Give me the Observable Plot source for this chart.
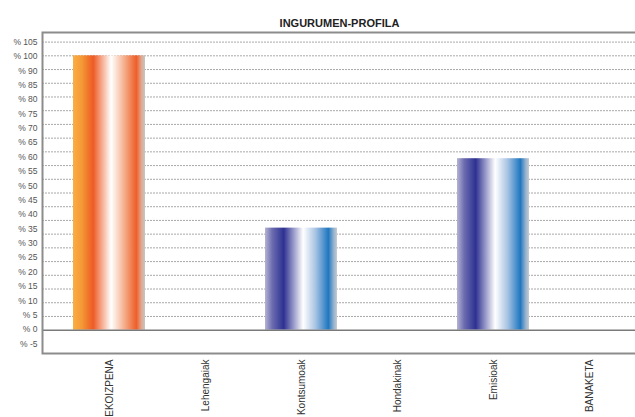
<!DOCTYPE html>
<html>
<head>
<meta charset="utf-8">
<script src="https://cdn.jsdelivr.net/npm/d3@7"></script>
<script src="https://cdn.jsdelivr.net/npm/@observablehq/plot@0.6"></script>
<style>
  html, body { margin: 0; padding: 0; background: #fff; }
  #chart svg { display: block; }
</style>
</head>
<body>
<div id="chart"></div>
<script>
// Environmental profile categories and their values (percent)
const categories = ["EKOIZPENA", "Lehengaiak", "Kontsumoak", "Hondakinak", "Emisioak", "BANAKETA"];
const values = [100, 0, 37.2, 0, 62.5, 0];
const palette = ["orange", "blue", "blue", "blue", "blue", "blue"];

// Y-axis labels, spread evenly from top to bottom of the value range
const yTickLabels = ["% 105", "% 100", "% 90", "% 85", "% 80", "% 75", "% 70", "% 65", "% 60", "% 55",
  "% 50", "% 45", "% 40", "% 35", "% 30", "% 25", "% 20", "% 15", "% 10", "% 5", "% 0", "% -5"];
const yLabelTop = 105, yLabelBottom = -5;
const gridLevels = d3.range(5, 106, 5);

const title = "INGURUMEN-PROFILA";

const data = categories.map((c, i) => ({category: c, value: values[i], tone: palette[i]}));
const yLabelData = yTickLabels.map((t, i) => ({
  text: t,
  pos: yLabelTop - i * (yLabelTop - yLabelBottom) / (yTickLabels.length - 1)
}));

// Gradient definitions used by the bars
function gradients() {
  const defs = d3.create("svg:defs");
  const add = (id, stops) => {
    const g = defs.append("linearGradient").attr("id", id)
      .attr("x1", "0").attr("x2", "1").attr("y1", "0").attr("y2", "0");
    for (const [o, c] of stops) g.append("stop").attr("offset", o).attr("stop-color", c);
  };
  add("grad-orange", [[0, "#faae42"], [0.12, "#f59a36"], [0.28, "#ee5a24"], [0.53, "#ffffff"],
    [0.7, "#f6b495"], [0.88, "#ee5e28"], [0.95, "#e0a890"], [1, "#c8c6c4"]]);
  add("grad-blue", [[0, "#b4b4d4"], [0.1, "#6c6cb0"], [0.26, "#2e3192"], [0.53, "#ffffff"],
    [0.7, "#a9c4e4"], [0.88, "#1f77c0"], [0.95, "#8fb0cc"], [1, "#c4ccd4"]]);
  return defs.node();
}

const chart = Plot.plot({
  width: 635,
  height: 417,
  marginTop: 32,
  marginBottom: 64,
  marginLeft: 42,
  marginRight: -1,
  style: {fontFamily: "Liberation Sans, Arial, sans-serif", background: "#fff", color: "#444"},
  x: {domain: categories, range: [61, 637], paddingInner: 0.25, paddingOuter: 0.125, axis: null, label: null},
  y: {domain: [-8.5, 108.5], axis: null},
  marks: [
    gradients,
    Plot.ruleY(gridLevels, {stroke: "#a8a8a8", strokeWidth: 1, strokeDasharray: "2,1"}),
    Plot.barY(data.filter(d => d.tone === "orange"), {x: "category", y: "value", fill: "url(#grad-orange)"}),
    Plot.barY(data.filter(d => d.tone === "blue"), {x: "category", y: "value", fill: "url(#grad-blue)"}),
    Plot.ruleY([0], {stroke: "#7a7a7a", strokeWidth: 1.5}),
    Plot.frame({stroke: "#8c8c8c", strokeWidth: 2}),
    Plot.text(yLabelData, {y: "pos", text: "text", frameAnchor: "left", textAnchor: "end", dx: -5,
      fontSize: 8.5, fill: "#555"}),
    Plot.axisX({tickRotate: -90, tickSize: 0, tickPadding: 6, fontSize: 10, fill: "#333", label: null}),
    Plot.text([title], {frameAnchor: "top", dy: -13, fontSize: 11, fontWeight: "bold", fill: "#222"})
  ]
});

document.getElementById("chart").appendChild(chart);
</script>
</body>
</html>
